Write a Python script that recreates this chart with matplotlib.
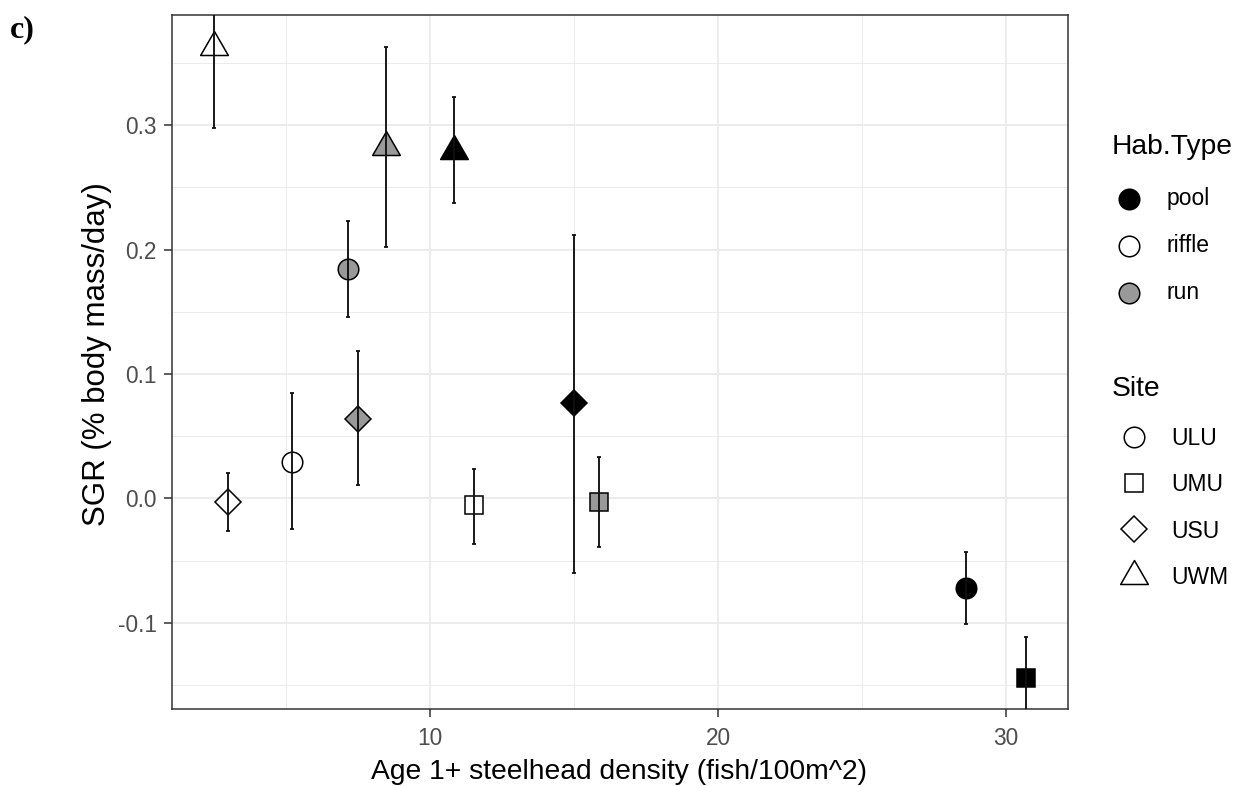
import matplotlib
matplotlib.use('Agg')
import matplotlib.pyplot as plt
from matplotlib.path import Path
import numpy as np

# ---------------- data ----------------
site = ['UWM', 'UWM', 'UWM', 'ULU', 'ULU', 'ULU', 'USU', 'USU', 'USU', 'UMU', 'UMU', 'UMU']
hab = ['riffle', 'run', 'pool', 'run', 'riffle', 'pool', 'riffle', 'run', 'pool', 'riffle', 'run', 'pool']
density = [2.49, 8.47, 10.83, 7.14, 5.20, 28.61, 2.98, 7.49, 14.99, 11.54, 15.87, 30.69]
sgr = [0.3628, 0.2823, 0.2791, 0.1846, 0.0296, -0.0716, -0.0026, 0.0639, 0.0765, -0.0052, -0.0030, -0.1439]
sgr_lo = [0.2973, 0.2018, 0.2371, 0.1461, -0.0248, -0.1008, -0.0259, 0.0108, -0.0601, -0.0365, -0.0392, -0.1763]
sgr_hi = [0.4283, 0.3629, 0.3227, 0.2231, 0.0845, -0.0427, 0.0202, 0.1185, 0.2116, 0.0235, 0.0336, -0.1115]

hab_levels = ['pool', 'riffle', 'run']
site_levels = ['ULU', 'UMU', 'USU', 'UWM']
x_ticks = [10, 20, 30]
y_ticks = [-0.1, 0.0, 0.1, 0.2, 0.3]
y_tick_labels = ['-0.1', '0.0', '0.1', '0.2', '0.3']
x_minor = [5, 15, 25]
y_minor = [-0.15, -0.05, 0.05, 0.15, 0.25, 0.35]

# ---------------- style ----------------
plt.rcParams['font.family'] = ['Liberation Sans', 'DejaVu Sans']
FILL = {'pool': '#000000', 'riffle': '#FFFFFF', 'run': '#999999'}
R = 7.4  # R-style symbol radius in points
tri = Path([(0, 1.555), (1.347, -0.778), (-1.347, -0.778), (0, 1.555)],
           [Path.MOVETO, Path.LINETO, Path.LINETO, Path.CLOSEPOLY])
SHAPE = {'ULU': ('o', 2 * R), 'UMU': ('s', 1.772 * R),
         'USU': ('D', 1.772 * R), 'UWM': (tri, 2 * 1.555 * R)}
MEW = 1.1
GREY20 = '#333333'
GREY30 = '#4D4D4D'

W, H = 1239, 786
fig = plt.figure(figsize=(W / 100, H / 100), dpi=100)
fig.patch.set_facecolor('white')

L, Rt, T, B = 172, 1068, 15, 709
ax = fig.add_axes([L / W, 1 - B / H, (Rt - L) / W, (B - T) / H])

# points
for xi, yi, s, h in zip(density, sgr, site, hab):
    m, ms = SHAPE[s]
    ax.plot([xi], [yi], marker=m, ms=ms, mfc=FILL[h], mec='black', mew=MEW,
            ls='none', zorder=3)

# error bars on top
yerr = [np.array(sgr) - np.array(sgr_lo), np.array(sgr_hi) - np.array(sgr)]
ax.errorbar(density, sgr, yerr=yerr, fmt='none', ecolor='#111111',
            elinewidth=1.35, capsize=1.2, capthick=1.3, zorder=4)

ax.set_xlim(1.042, 32.15)
ax.set_ylim(-0.1691, 0.3884)
ax.set_xticks(x_ticks)
ax.set_xticklabels([str(t) for t in x_ticks])
ax.set_yticks(y_ticks)
ax.set_yticklabels(y_tick_labels)
ax.set_xticks(x_minor, minor=True)
ax.set_yticks(y_minor, minor=True)
ax.set_axisbelow(True)
ax.grid(which='major', color='#EBEBEB', lw=1.3)
ax.grid(which='minor', color='#EBEBEB', lw=0.7)
ax.tick_params(which='minor', length=0)
ax.tick_params(which='major', length=5.8, width=1.1, color=GREY20,
               labelsize=16.3, labelcolor=GREY30)
ax.tick_params(axis='x', pad=7)
ax.tick_params(axis='y', pad=5)
for sp in ax.spines.values():
    sp.set_color(GREY20)
    sp.set_linewidth(1.1)

# axis titles
fig.text(618.7 / W, 1 - 779 / H, 'Age 1+ steelhead density (fish/100m^2)',
         ha='center', va='baseline', fontsize=20.3, color='black')
fig.text(97 / W, 1 - 354 / H, 'SGR (% body mass/day)', rotation=90,
         ha='center', va='center', fontsize=22.5, color='black')

# panel tag
fig.text(10 / W, 1 - 37 / H, 'c)', ha='left', va='baseline', fontsize=23,
         fontweight='bold', family=['Liberation Serif', 'DejaVu Serif'])

# ---------------- legends (pixel layout) ----------------
lax = fig.add_axes([0, 0, 1, 1], zorder=5)
lax.set_xlim(0, W)
lax.set_ylim(H, 0)
lax.axis('off')
lax.patch.set_alpha(0)

lax.text(1111.7, 153.5, 'Hab.Type', ha='left', va='baseline', fontsize=20.3)
hab_rows = [199, 246, 293]
for h, yy in zip(hab_levels, hab_rows):
    lax.plot([1129], [yy], marker='o', ms=2 * R, mfc=FILL[h], mec='black',
             mew=MEW, ls='none')
    lax.text(1167, yy + 6, h, ha='left', va='baseline', fontsize=16.5)

lax.text(1111.7, 396, 'Site', ha='left', va='baseline', fontsize=20.3)
site_rows = [436.7, 483, 529.3, 575.6]
for s, yy in zip(site_levels, site_rows):
    m, ms = SHAPE[s]
    lax.plot([1134], [yy], marker=m, ms=ms, mfc='white', mec='black',
             mew=MEW, ls='none')
    lax.text(1171.7, yy + 8.4, s, ha='left', va='baseline', fontsize=16.5)

fig.savefig('out.png', dpi=100, facecolor='white')
